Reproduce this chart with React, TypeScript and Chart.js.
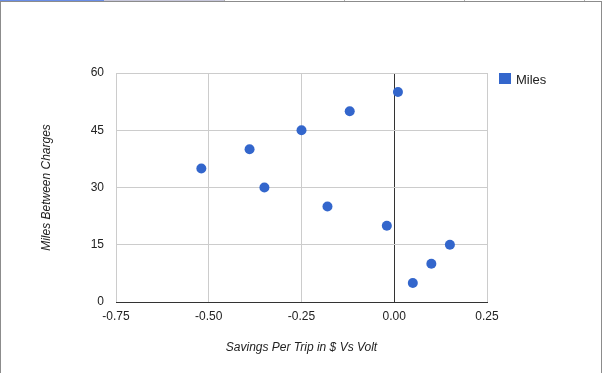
import React, { useEffect, useRef } from "react";
import { Chart, registerables } from "chart.js";

Chart.register(...registerables);

const seriesName = "Miles";
const savingsX = [-0.52, -0.39, -0.35, -0.25, -0.12, 0.01, -0.18, -0.02, 0.15, 0.1, 0.05];
const milesY = [35, 40, 30, 45, 50, 55, 25, 20, 15, 10, 5];
const xTitle = "Savings Per Trip in $ Vs Volt";
const yTitle = "Miles Between Charges";
const xMin = -0.75;
const xMax = 0.25;
const xStep = 0.25;
const yMin = 0;
const yMax = 60;
const yStep = 15;

const FONT = "Arial, 'Liberation Sans', sans-serif";
const BLUE = "#3366cc";

export default function App() {
  const canvasRef = useRef<HTMLCanvasElement | null>(null);

  useEffect(() => {
    document.body.style.margin = "0";
    const canvas = canvasRef.current;
    if (!canvas) return;
    const data = savingsX.map((x, i) => ({ x, y: milesY[i] }));
    const chart = new Chart(canvas, {
      type: "scatter",
      data: {
        datasets: [
          {
            label: seriesName,
            data,
            backgroundColor: BLUE,
            borderColor: BLUE,
            borderWidth: 0,
            pointRadius: 5,
            pointHoverRadius: 5,
          },
        ],
      },
      options: {
        animation: false,
        responsive: false,
        devicePixelRatio: 1,
        layout: { padding: { top: 73, right: 115, left: 0, bottom: 0 } },
        plugins: { legend: { display: false }, tooltip: { enabled: false } },
        scales: {
          x: {
            type: "linear",
            min: xMin,
            max: xMax,
            afterFit: (s: any) => {
              s.height = 71;
            },
            ticks: {
              stepSize: xStep,
              padding: 7,
              color: "#222",
              font: { family: FONT, size: 12 },
              callback: (v: any) => Number(v).toFixed(2),
            },
            grid: {
              drawTicks: false,
              color: (c: any) => (c.tick && c.tick.value === 0 ? "#333" : "#cccccc"),
              lineWidth: 1,
            },
            border: { display: true, color: "#333", width: 1 },
            title: {
              display: true,
              text: xTitle,
              color: "#222",
              font: { family: FONT, size: 12, style: "italic" },
              padding: { top: 0, bottom: 18 },
            },
          },
          y: {
            type: "linear",
            min: yMin,
            max: yMax,
            afterFit: (s: any) => {
              s.width = 116;
            },
            ticks: {
              stepSize: yStep,
              padding: 12,
              color: "#222",
              font: { family: FONT, size: 12 },
            },
            grid: {
              drawTicks: false,
              color: (c: any) => (c.tick && c.tick.value === 0 ? "#333" : "#cccccc"),
              lineWidth: 1,
            },
            border: { display: false },
            title: {
              display: true,
              text: yTitle,
              color: "#222",
              font: { family: FONT, size: 12, style: "italic" },
              padding: { top: 39, bottom: 0 },
            },
          },
        },
      },
    });
    return () => chart.destroy();
  }, []);

  const frameGray = "#8c8c8c";
  return (
    <div style={{ position: "fixed", left: 0, top: 0, width: 602, height: 373, background: "#fff", overflow: "hidden" }}>
      <canvas ref={canvasRef} width={602} height={373} style={{ position: "absolute", left: 0, top: 0, width: 602, height: 373 }} />
      <div style={{ position: "absolute", left: 0, top: 0, width: 104, height: 1, background: "#6a8ee8" }} />
      <div style={{ position: "absolute", left: 104, top: 0, width: 120, height: 1, background: "#c8c8dc" }} />
      {[224, 344, 464, 584].map((x) => (
        <div key={x} style={{ position: "absolute", left: x, top: 0, width: 1, height: 1, background: "#b0b0b0" }} />
      ))}
      <div style={{ position: "absolute", left: 0, top: 1, width: 602, height: 1, background: frameGray }} />
      <div style={{ position: "absolute", left: 0, top: 1, width: 1, height: 372, background: frameGray }} />
      <div style={{ position: "absolute", left: 601, top: 1, width: 1, height: 372, background: frameGray }} />
      <div style={{ position: "absolute", left: 499, top: 73, width: 12, height: 11, background: BLUE }} />
      <div
        style={{
          position: "absolute",
          left: 516,
          top: 72,
          font: `13px ${FONT}`,
          lineHeight: "15px",
          color: "#222",
          whiteSpace: "nowrap",
        }}
      >
        {seriesName}
      </div>
    </div>
  );
}
